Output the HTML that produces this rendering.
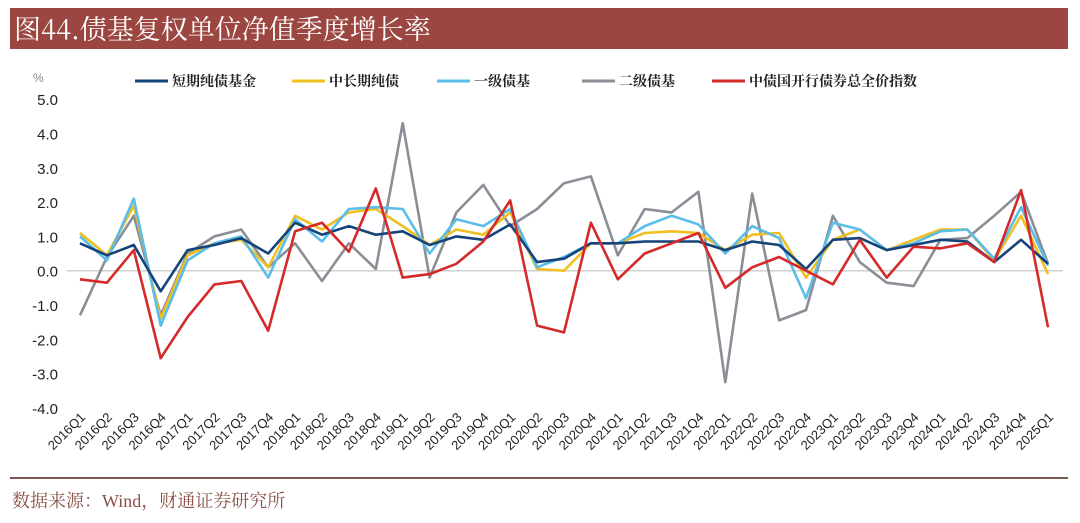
<!DOCTYPE html>
<html><head><meta charset="utf-8"><style>
html,body{margin:0;padding:0;background:#fff;width:1080px;height:523px;overflow:hidden}
</style></head><body>
<svg id="s" width="1080" height="523" xmlns="http://www.w3.org/2000/svg" style="display:block">
<rect x="0" y="0" width="1080" height="523" fill="#fff"/>
<rect x="10" y="8" width="1058" height="41" fill="#9b4640"/>
<text x="14" y="39" font-family="'Noto Serif CJK SC','Liberation Serif',serif" font-size="27" fill="#fff">图44.债基复权单位净值季度增长率</text>
<line x1="10" y1="478" x2="1068" y2="478" stroke="#7a5a50" stroke-width="2"/>
<text x="12" y="507" font-family="'Liberation Serif','Noto Serif CJK SC',serif" font-size="18" fill="#8a5048">数据来源：Wind，财通证券研究所</text>
<text x="33" y="82" font-family="'Liberation Sans',sans-serif" font-size="12" fill="#888">%</text>
<g id="g"></g>
</svg>
<script>
var X0=80,DX=(1048-80)/36,Y0=270.7,K=34.3;
function px(i){return X0+i*DX} function py(v){return Y0-v*K}
var g=document.getElementById('g'),h='';
for(var v=5;v>=-4;v--){h+='<text x="58" y="'+(py(v)+6)+'" text-anchor="end" font-family="Liberation Sans,sans-serif" font-size="15" fill="#222">'+(v<0?'-':'')+Math.abs(v).toFixed(1)+'</text>';}
h+='<line x1="67" y1="'+Y0+'" x2="1063" y2="'+Y0+'" stroke="#d0d0d0" stroke-width="1.5"/>';
var labs=[];for(var y=2016;y<=2025;y++)for(var q=1;q<=4;q++)labs.push(y+'Q'+q);labs=labs.slice(0,37);
labs.forEach(function(l,i){var x=px(i)+6,yy=418;h+='<text x="'+x+'" y="'+yy+'" text-anchor="end" transform="rotate(-45 '+x+' '+yy+')" font-family="Liberation Sans,sans-serif" font-size="13" fill="#222">'+l+'</text>';});
var S=[
['#8a8e96',[-1.3,0.4,1.6,-1.3,0.5,1.0,1.2,0.1,0.8,-0.3,0.8,0.05,4.3,-0.2,1.7,2.5,1.3,1.8,2.55,2.75,0.45,1.8,1.7,2.3,-3.25,2.25,-1.45,-1.15,1.6,0.25,-0.35,-0.45,0.9,0.95,1.6,2.3,0.2]],
['#f0c020',[1.1,0.45,1.9,-1.4,0.45,0.8,0.9,0.1,1.6,1.2,1.7,1.8,1.3,0.75,1.2,1.05,1.7,0.05,0.0,0.8,0.8,1.1,1.15,1.1,0.6,1.05,1.1,-0.2,0.9,1.2,0.6,0.9,1.2,1.2,0.3,1.6,-0.1]],
['#5bbde8',[1.0,0.3,2.1,-1.6,0.3,0.8,1.0,-0.2,1.5,0.85,1.8,1.85,1.8,0.5,1.5,1.3,1.8,0.1,0.4,0.8,0.8,1.3,1.6,1.35,0.5,1.3,0.95,-0.8,1.4,1.2,0.6,0.8,1.15,1.2,0.35,1.85,0.15]],
['#15447a',[0.8,0.45,0.75,-0.6,0.6,0.75,0.95,0.5,1.4,1.05,1.3,1.05,1.15,0.75,1.0,0.9,1.35,0.25,0.35,0.8,0.8,0.85,0.85,0.85,0.6,0.85,0.75,0.05,0.9,0.95,0.6,0.75,0.9,0.85,0.25,0.9,0.2]],
['#d42a2a',[-0.25,-0.35,0.6,-2.55,-1.35,-0.4,-0.3,-1.75,1.15,1.4,0.55,2.4,-0.2,-0.1,0.2,0.85,2.05,-1.6,-1.8,1.4,-0.25,0.5,0.8,1.1,-0.5,0.1,0.4,0.0,-0.4,0.9,-0.2,0.7,0.65,0.8,0.25,2.35,-1.65]]];
S.forEach(function(s){h+='<polyline fill="none" stroke="'+s[0]+'" stroke-width="2.6" stroke-linejoin="round" points="'+s[1].map(function(v,i){return px(i).toFixed(1)+','+py(v).toFixed(1)}).join(' ')+'"/>';});
var L=[['#15447a','短期纯债基金',135],['#f0c020','中长期纯债',292],['#5bbde8','一级债基',437],['#8a8e96','二级债基',582],['#d42a2a','中债国开行债券总全价指数',712]];
L.forEach(function(l){h+='<line x1="'+l[2]+'" y1="81" x2="'+(l[2]+33)+'" y2="81" stroke="'+l[0]+'" stroke-width="3"/><text x="'+(l[2]+37)+'" y="86" font-family="\'Noto Serif CJK SC\',serif" font-weight="bold" font-size="14" fill="#222">'+l[1]+'</text>';});
g.innerHTML=h;
</script>
</body></html>
